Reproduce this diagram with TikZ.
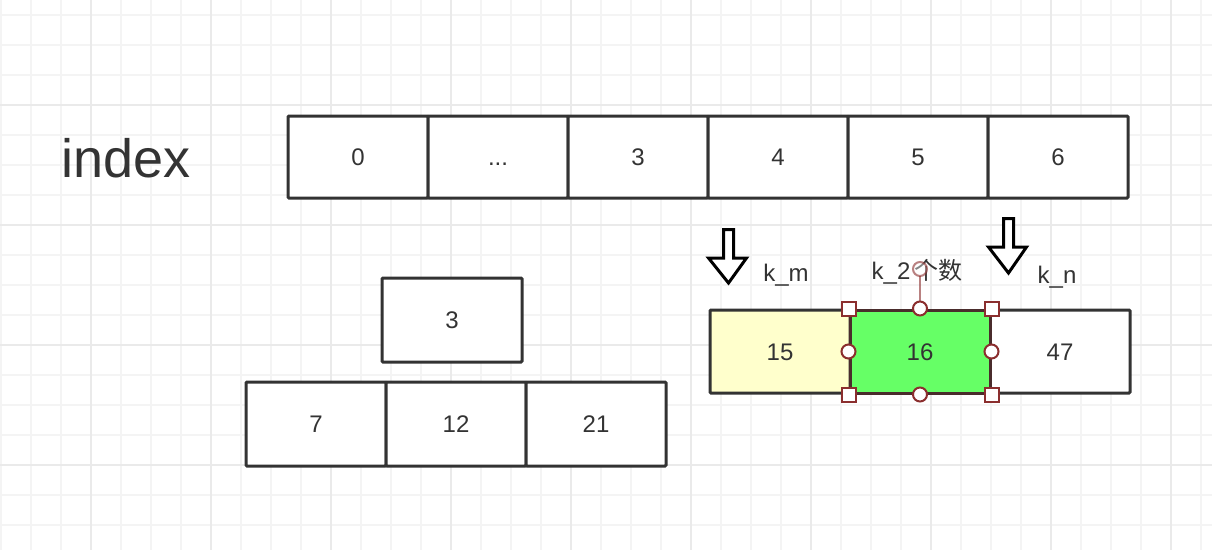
\documentclass[tikz,border=0pt]{standalone}
\usepackage{fontspec}
\setmainfont{Liberation Sans}
\newfontfamily\cjk{Noto Sans CJK SC}
\definecolor{ink}{HTML}{333333}
\definecolor{gridminor}{HTML}{F4F4F4}
\definecolor{gridmajor}{HTML}{EAEAEA}
\definecolor{selred}{HTML}{8B2E2E}
\definecolor{selborder}{HTML}{4A2C2C}
\definecolor{cellgreen}{HTML}{66FF66}
\definecolor{cellyellow}{HTML}{FFFFCC}
\tikzset{
  minorline/.style={draw=gridminor,line width=2pt},
  majorline/.style={draw=gridmajor,line width=2pt},
  cell/.style={draw=ink,line width=3pt,fill=white,rounded corners=1pt,minimum width=140pt,inner sep=0pt,text=ink,font=\fontsize{24}{28}\selectfont,text height=17pt,text depth=0pt},
  lbl/.style={text=ink,inner sep=0pt,font=\fontsize{24}{28}\selectfont},
  hollowarrow/.style={draw=black,line width=3pt,line join=miter,fill=white},
  sqhandle/.style={draw=selred,line width=2pt,fill=white,minimum size=14pt,inner sep=0pt},
  cirhandle/.style={circle,draw=selred,line width=2pt,fill=white,minimum size=14pt,inner sep=0pt},
}
\begin{document}
\begin{tikzpicture}[x=1pt,y=-1pt]
\useasboundingbox (0,0) rectangle (1212,550);
\fill[white] (0,0) rectangle (1212,550);
% grid
\foreach \x in {1,31,...,1211} \draw[minorline] (\x,0) -- (\x,550);
\foreach \y in {15,45,...,545} \draw[minorline] (0,\y) -- (1212,\y);
\foreach \x in {91,211,...,1171} \draw[majorline] (\x,0) -- (\x,550);
\foreach \y in {105,225,345,465} \draw[majorline] (0,\y) -- (1212,\y);

% index label
\node[text=ink,inner sep=0pt,font=\fontsize{54}{62}\selectfont] (idx) at (126,158) {index};

% top row
\node[cell,minimum height=82pt] (t0) at (358,157) {0};
\node[cell,minimum height=82pt] (t1) at (498,157) {...};
\node[cell,minimum height=82pt] (t3) at (638,157) {3};
\node[cell,minimum height=82pt] (t4) at (778,157) {4};
\node[cell,minimum height=82pt] (t5) at (918,157) {5};
\node[cell,minimum height=82pt] (t6) at (1058,157) {6};

% left group
\node[cell,minimum height=84pt] (b3) at (452,320) {3};
\node[cell,minimum height=84pt] (b7) at (316,424) {7};
\node[cell,minimum height=84pt] (b12) at (456,424) {12};
\node[cell,minimum height=84pt] (b21) at (596,424) {21};

% right group
\node[cell,minimum height=83pt,fill=cellyellow] (r15) at (780,351.5) {15};
\node[cell,minimum height=83pt] (r47) at (1060,351.5) {47};
\node[cell,minimum height=83pt,fill=cellgreen,draw=selborder,rounded corners=0pt] (r16) at (920,351.5) {16};

% hollow arrows
\draw[hollowarrow] (723.5,229.5) -- (733.5,229.5) -- (733.5,258) -- (746.5,258) -- (728.5,283) -- (708.5,258) -- (723.5,258) -- cycle;
\draw[hollowarrow] (1003.5,218.5) -- (1013.5,218.5) -- (1013.5,247) -- (1026.5,247) -- (1008.5,273) -- (988.5,247) -- (1003.5,247) -- cycle;

% labels
\node[lbl] (km) at (786,275) {k\_m};
\node[lbl] (k2) at (917,272) {k\_2\hspace{4pt}{\cjk 个数}};
\node[lbl] (kn) at (1057,277) {k\_n};

% selection handles
\draw[selred,opacity=0.6,line width=2pt] (r16.north) -- (920,276);
\node[circle,draw=selred,draw opacity=0.6,fill=white,fill opacity=0.4,line width=2pt,minimum size=14pt,inner sep=0pt] (rot) at (920,269) {};
\node[sqhandle] (hnw) at (r16.north west) {};
\node[sqhandle] (hne) at (r16.north east) {};
\node[sqhandle] (hsw) at (r16.south west) {};
\node[sqhandle] (hse) at (r16.south east) {};
\node[cirhandle] (hn) at (r16.north) {};
\node[cirhandle] (hs) at (r16.south) {};
\node[cirhandle] (hw) at (r16.west) {};
\node[cirhandle] (he) at (r16.east) {};
\end{tikzpicture}
\end{document}
